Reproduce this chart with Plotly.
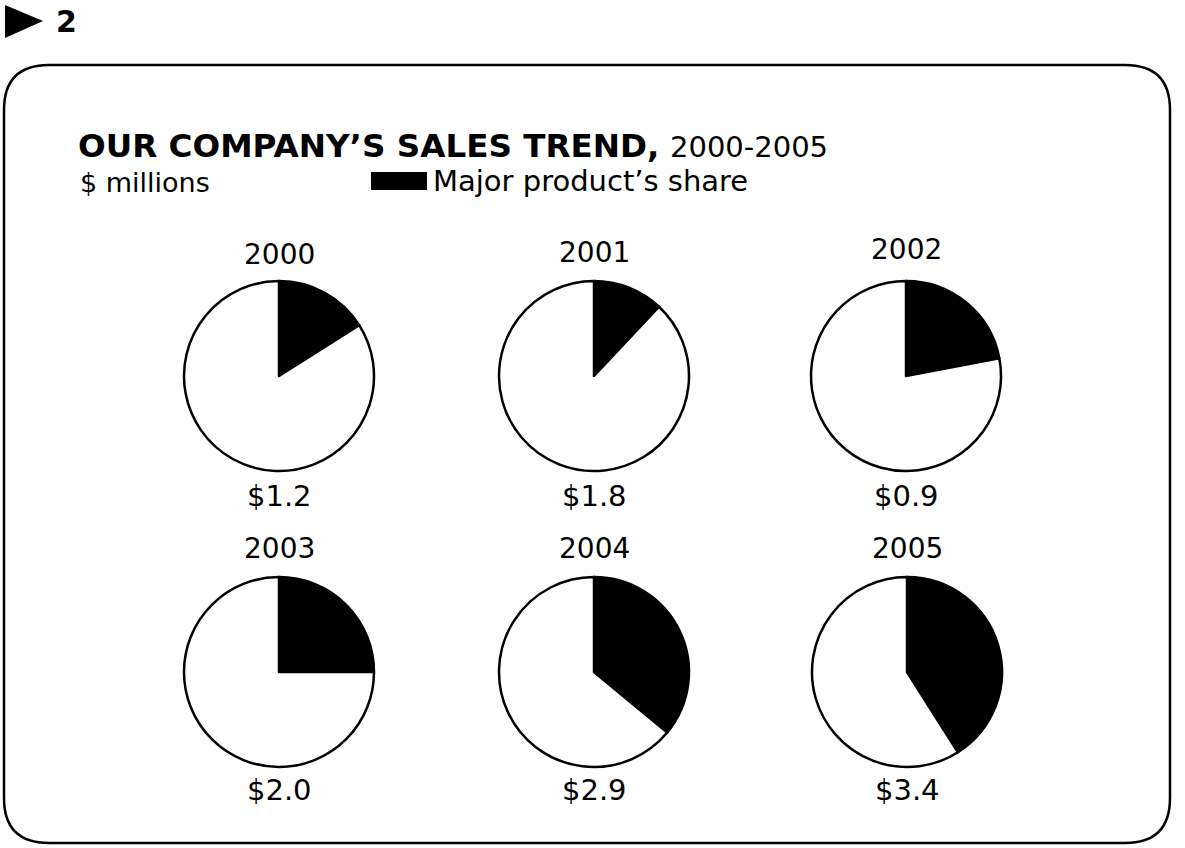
import plotly.graph_objects as go

W, H = 1185, 848

years = ["2000", "2001", "2002", "2003", "2004", "2005"]
major_share_pct = [16, 12, 22, 25, 36, 41]
sales_labels = ["$1.2", "$1.8", "$0.9", "$2.0", "$2.9", "$3.4"]

# layout (pixels)
centers = [(279, 376), (594, 376), (906, 376), (279, 672), (594, 672), (907, 672)]
R = 95
year_label_y = [255, 252, 249, 548, 548, 548]
value_label_y = [496, 496, 496, 790, 790, 790]

FONT = "DejaVu Sans, Verdana, sans-serif"

def px(x):
    return x / W

def py(y):
    return 1 - y / H

fig = go.Figure()
annotations = []
for i, yr in enumerate(years):
    cx, cy = centers[i]
    fig.add_trace(go.Pie(
        values=[major_share_pct[i], 100 - major_share_pct[i]],
        labels=["Major product", "Other"],
        sort=False,
        direction="clockwise",
        rotation=0,
        textinfo="none",
        hoverinfo="label+percent",
        marker=dict(colors=["black", "white"], line=dict(color="black", width=2.5)),
        domain=dict(x=[px(cx - R), px(cx + R)], y=[py(cy + R), py(cy - R)]),
        showlegend=False,
    ))
    annotations.append(dict(x=px(cx), y=py(year_label_y[i]), xref="paper", yref="paper",
                            text=yr, showarrow=False, xanchor="center", yanchor="middle",
                            font=dict(size=28, color="black", family=FONT)))
    annotations.append(dict(x=px(cx), y=py(value_label_y[i]), xref="paper", yref="paper",
                            text=sales_labels[i], showarrow=False, xanchor="center", yanchor="middle",
                            font=dict(size=29, color="black", family=FONT)))

annotations.append(dict(x=px(76), y=py(146), xref="paper", yref="paper",
                        text="<b>OUR COMPANY’S SALES TREND,</b>", showarrow=False,
                        xanchor="left", yanchor="middle",
                        font=dict(size=32.6, color="black", family=FONT)))
annotations.append(dict(x=px(668), y=py(147), xref="paper", yref="paper",
                        text="2000-2005", showarrow=False,
                        xanchor="left", yanchor="middle",
                        font=dict(size=29, color="black", family=FONT)))
annotations.append(dict(x=px(78), y=py(182), xref="paper", yref="paper",
                        text="$ millions", showarrow=False, xanchor="left", yanchor="middle",
                        font=dict(size=27, color="black", family=FONT)))
annotations.append(dict(x=px(431), y=py(181), xref="paper", yref="paper",
                        text="Major product’s share", showarrow=False, xanchor="left", yanchor="middle",
                        font=dict(size=29, color="black", family=FONT)))
annotations.append(dict(x=px(54), y=py(22), xref="paper", yref="paper",
                        text="<b>2</b>", showarrow=False, xanchor="left", yanchor="middle",
                        font=dict(size=30, color="black", family=FONT)))

# rounded box
L, T, Rr, B, rc = 4, 65, 1170, 843, 45
def P(x, y):
    return f"{px(x):.5f},{py(y):.5f}"
box_path = (f"M {P(L + rc, T)} L {P(Rr - rc, T)} Q {P(Rr, T)} {P(Rr, T + rc)} "
            f"L {P(Rr, B - rc)} Q {P(Rr, B)} {P(Rr - rc, B)} "
            f"L {P(L + rc, B)} Q {P(L, B)} {P(L, B - rc)} "
            f"L {P(L, T + rc)} Q {P(L, T)} {P(L + rc, T)} Z")
tri_path = f"M {P(5, 5)} L {P(43, 21)} L {P(5, 38)} Z"

shapes = [
    dict(type="path", xref="paper", yref="paper", path=box_path,
         line=dict(color="black", width=2.5), fillcolor="rgba(0,0,0,0)", layer="below"),
    dict(type="path", xref="paper", yref="paper", path=tri_path,
         line=dict(color="black", width=0), fillcolor="black"),
    dict(type="rect", xref="paper", yref="paper",
         x0=px(371), x1=px(427), y0=py(190), y1=py(172),
         line=dict(color="black", width=0), fillcolor="black"),
]

fig.update_layout(
    width=W, height=H,
    margin=dict(l=0, r=0, t=0, b=0),
    paper_bgcolor="white", plot_bgcolor="white",
    annotations=annotations, shapes=shapes,
    showlegend=False,
)

fig.write_html("out.html", config={"displayModeBar": False},
               post_script="document.body.style.margin='0';document.body.style.overflow='hidden';")
